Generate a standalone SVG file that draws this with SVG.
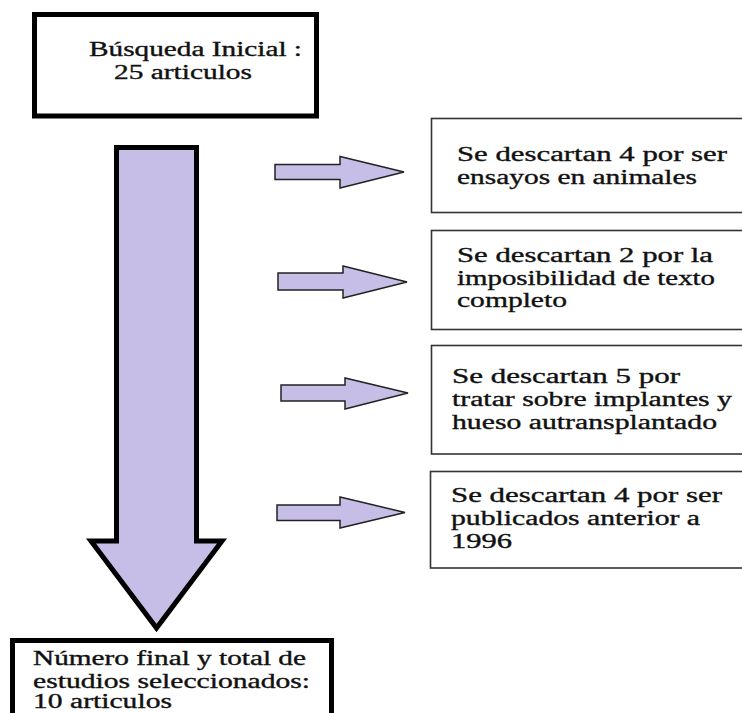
<svg xmlns="http://www.w3.org/2000/svg" width="742" height="713" viewBox="0 0 742 713">
<style>
  .t { font-family: "Liberation Serif", "Times New Roman", serif; font-size: 20px; fill: #111; stroke: #111; stroke-width: 0.35; }
  .thick { fill: #fff; stroke: #000; stroke-width: 5; }
  .thin { fill: #fff; stroke: #333; stroke-width: 1.6; }
  .arr { fill: #c6bee6; stroke: #222; stroke-width: 1.5; stroke-linejoin: miter; }
  .big { fill: #c6bee6; stroke: #000; stroke-width: 5; stroke-linejoin: miter; }
</style>
<rect width="742" height="713" fill="#fff"/>
<g id="start">
  <rect class="thick" x="34.5" y="14.5" width="282" height="101.5"/>
  <text class="t" x="89" y="56" textLength="213" lengthAdjust="spacingAndGlyphs">Búsqueda Inicial :</text>
  <text class="t" x="114" y="79" textLength="138" lengthAdjust="spacingAndGlyphs">25 articulos</text>
</g>
<g id="connectors">
  <path class="big" d="M116.5,147.5 H196.5 V541 H222 L156.5,628 L91,541 H116.5 Z"/>
  <path class="arr" d="M275,164.5 H340 V156.5 L404,172 L340,188 V179.5 H275 Z"/>
  <path class="arr" d="M278,273 H343 V266 L407,282 L343,298 V290 H278 Z"/>
  <path class="arr" d="M281,385 H345 V378 L408,393 L345,409 V401 H281 Z"/>
  <path class="arr" d="M277,505 H340 V497 L405,512.5 L340,528 V520.5 H277 Z"/>
</g>
<g id="excl1">
  <rect class="thin" x="431.5" y="118.5" width="320" height="94"/>
  <text class="t" x="457" y="161" textLength="270" lengthAdjust="spacingAndGlyphs">Se descartan 4 por ser</text>
  <text class="t" x="457" y="184" textLength="240" lengthAdjust="spacingAndGlyphs">ensayos en animales</text>
</g>
<g id="excl2">
  <rect class="thin" x="431.5" y="230.5" width="320" height="99"/>
  <text class="t" x="457" y="262" textLength="256" lengthAdjust="spacingAndGlyphs">Se descartan 2 por la</text>
  <text class="t" x="457" y="284.5" textLength="258" lengthAdjust="spacingAndGlyphs">imposibilidad de texto</text>
  <text class="t" x="457" y="307" textLength="110" lengthAdjust="spacingAndGlyphs">completo</text>
</g>
<g id="excl3">
  <rect class="thin" x="431.5" y="345.5" width="320" height="108.5"/>
  <text class="t" x="452" y="383" textLength="228" lengthAdjust="spacingAndGlyphs">Se descartan 5 por</text>
  <text class="t" x="452" y="406" textLength="280" lengthAdjust="spacingAndGlyphs">tratar sobre implantes y</text>
  <text class="t" x="452" y="429" textLength="265" lengthAdjust="spacingAndGlyphs">hueso autransplantado</text>
</g>
<g id="excl4">
  <rect class="thin" x="430.5" y="471.5" width="320" height="96.5"/>
  <text class="t" x="451" y="502" textLength="271" lengthAdjust="spacingAndGlyphs">Se descartan 4 por ser</text>
  <text class="t" x="451" y="525" textLength="249" lengthAdjust="spacingAndGlyphs">publicados anterior a</text>
  <text class="t" x="451" y="548" textLength="61" lengthAdjust="spacingAndGlyphs">1996</text>
</g>
<g id="final">
  <rect class="thick" x="12.5" y="640.5" width="319" height="90"/>
  <text class="t" x="33" y="665" textLength="273" lengthAdjust="spacingAndGlyphs">Número final y total de</text>
  <text class="t" x="33" y="687.5" textLength="277" lengthAdjust="spacingAndGlyphs">estudios seleccionados:</text>
  <text class="t" x="33" y="708" textLength="139" lengthAdjust="spacingAndGlyphs">10 articulos</text>
</g>
</svg>
